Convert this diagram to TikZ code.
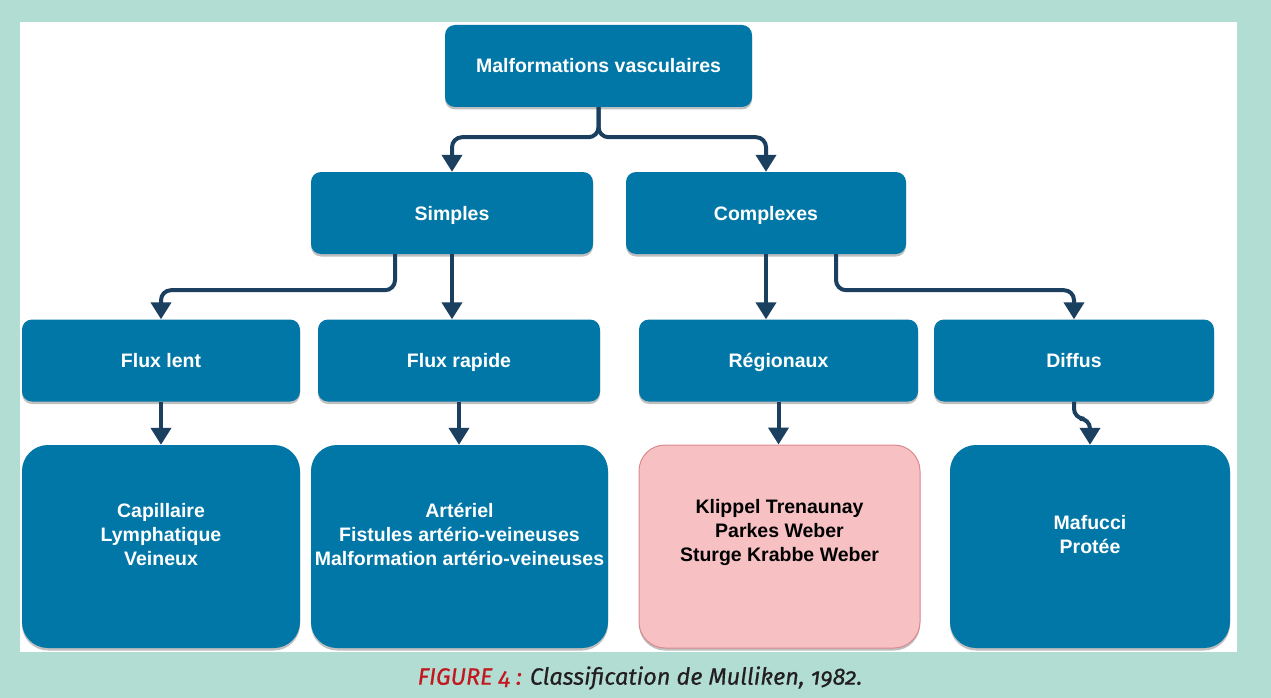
\documentclass[tikz,border=0pt]{standalone}
\usepackage{fontspec}
\setmainfont{Liberation Sans}
\newfontfamily\capfont[Numbers=OldStyle,ItalicFeatures={FakeBold=0.6}]{Fira Sans}
\usetikzlibrary{arrows.meta,shadows}
\definecolor{bgteal}{HTML}{B2DDD3}
\definecolor{boxblue}{HTML}{0077A6}
\definecolor{linenavy}{HTML}{1B3F5E}
\definecolor{pinkfill}{HTML}{F7C1C4}
\definecolor{pinkdraw}{HTML}{D98A8E}
\definecolor{capred}{HTML}{C3161F}
\definecolor{capdark}{HTML}{231F20}
\tikzset{
  boxbase/.style={inner sep=0pt, drop shadow={shadow xshift=0pt, shadow yshift=-2.5pt, opacity=.25, fill=black}},
  topbox/.style={boxbase, rounded corners=10pt, fill=boxblue, text=white, font=\bfseries\fontsize{19.5}{24}\selectfont, text height=16pt, text depth=2pt, minimum height=82pt},
  bigbox/.style={boxbase, rounded corners=26pt, fill=boxblue, minimum height=203pt},
  pinkbox/.style={boxbase, rounded corners=26pt, fill=pinkfill, draw=pinkdraw, line width=1pt, minimum height=203pt},
  wtxt/.style={text=white, font=\bfseries\fontsize{19.5}{24}\selectfont, align=center, inner sep=0pt},
  btxt/.style={text=black, font=\bfseries\fontsize{19.5}{24}\selectfont, align=center, inner sep=0pt},
  conn/.style={draw=linenavy, line width=4pt, rounded corners=10pt, -{Triangle[width=20pt,length=17pt]}}
}
\begin{document}
\begin{tikzpicture}[x=1pt,y=-1pt]
\useasboundingbox (0,0) rectangle (1271,698);
\fill[bgteal] (0,0) rectangle (1271,698);
\fill[white] (20,22) rectangle (1237,652);

\node[topbox, minimum width=307pt] (mv) at (598.5,66) {Malformations vasculaires};
\node[topbox, minimum width=282pt] (simples) at (452,213) {Simples};
\node[topbox, minimum width=280pt] (complexes) at (766,213) {Complexes};
\node[topbox, minimum width=278pt] (fluxlent) at (161,360.5) {Flux lent};
\node[topbox, minimum width=282pt] (fluxrapide) at (459,360.5) {Flux rapide};
\node[topbox, minimum width=279pt] (regionaux) at (778.5,360.5) {Régionaux};
\node[topbox, minimum width=280pt] (diffus) at (1074,360.5) {Diffus};

\node[bigbox, minimum width=278pt] (cap) at (161,546.5) {};
\node[bigbox, minimum width=297pt] (art) at (459.5,546.5) {};
\node[pinkbox, minimum width=281pt] (klip) at (779.5,546.5) {};
\node[bigbox, minimum width=280pt] (maf) at (1090,546.5) {};

\node[wtxt] (capT) at ([yshift=12pt]cap.center) {Capillaire\\Lymphatique\\Veineux};
\node[wtxt] (artT) at ([yshift=12pt]art.center) {Artériel\\Fistules artério-veineuses\\Malformation artério-veineuses};
\node[btxt] (klipT) at ([yshift=14pt]klip.center) {Klippel Trenaunay\\Parkes Weber\\Sturge Krabbe Weber};
\node[wtxt] (mafT) at ([yshift=12pt]maf.center) {Mafucci\\Protée};

\draw[conn] (mv.south) -- ++(0,30) -| (simples.north);
\draw[conn] (mv.south) -- ++(0,30) -| (complexes.north);
\draw[conn] ([xshift=-57pt]simples.south) -- ++(0,36) -| (fluxlent.north);
\draw[conn] (simples.south) -- (simples.south |- fluxrapide.north);
\draw[conn] (complexes.south) -- (complexes.south |- regionaux.north);
\draw[conn] ([xshift=70pt]complexes.south) -- ++(0,36) -| (diffus.north);
\draw[conn] (fluxlent.south) -- (fluxlent.south |- cap.north);
\draw[conn] (fluxrapide.south) -- (fluxrapide.south |- art.north);
\draw[conn] (regionaux.south) -- (regionaux.south |- klip.north);
\draw[conn] (diffus.south) -- ++(0,17) -| (maf.north);

\node[font=\capfont\itshape\fontsize{23.5}{26}\selectfont, text=capdark] (caption) at (640,678) {\textcolor{capred}{FIGURE 4 :} Classification de Mulliken, 1982.};
\end{tikzpicture}
\end{document}
